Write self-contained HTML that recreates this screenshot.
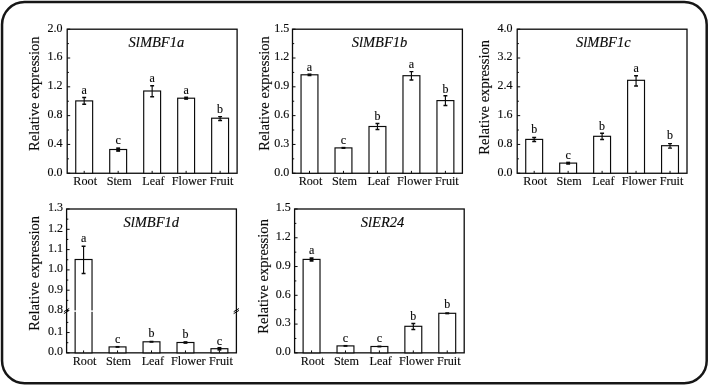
<!DOCTYPE html>
<html><head><meta charset="utf-8"><title>Relative expression</title>
<style>
html,body{margin:0;padding:0;background:#fff;}
body{width:709px;height:386px;overflow:hidden;position:relative;}
svg{position:absolute;left:0;top:0;display:block;}
svg text{font-family:"Liberation Serif", "DejaVu Serif", serif;fill:#0a0a0a;stroke:#0a0a0a;stroke-width:0.14px;}
</style></head><body>
<svg width="709" height="386" viewBox="0 0 709 386">
<rect x="2.05" y="1.95" width="704.65" height="381.35" rx="22.5" ry="22.5" fill="#fff" stroke="#161616" stroke-width="2.5"/>
<g>
<rect x="67.2" y="29.2" width="169.9" height="144.05" fill="#fff" stroke="#0a0a0a" stroke-width="1.3"/>
<line x1="67.2" y1="173.25" x2="70.2" y2="173.25" stroke="#0a0a0a" stroke-width="1"/>
<text x="62.6" y="175.6" font-size="12" text-anchor="end">0.0</text>
<line x1="67.2" y1="158.84" x2="68.9" y2="158.84" stroke="#0a0a0a" stroke-width="1"/>
<line x1="67.2" y1="144.44" x2="70.2" y2="144.44" stroke="#0a0a0a" stroke-width="1"/>
<text x="62.6" y="146.79" font-size="12" text-anchor="end">0.4</text>
<line x1="67.2" y1="130.03" x2="68.9" y2="130.03" stroke="#0a0a0a" stroke-width="1"/>
<line x1="67.2" y1="115.63" x2="70.2" y2="115.63" stroke="#0a0a0a" stroke-width="1"/>
<text x="62.6" y="117.98" font-size="12" text-anchor="end">0.8</text>
<line x1="67.2" y1="101.22" x2="68.9" y2="101.22" stroke="#0a0a0a" stroke-width="1"/>
<line x1="67.2" y1="86.82" x2="70.2" y2="86.82" stroke="#0a0a0a" stroke-width="1"/>
<text x="62.6" y="89.17" font-size="12" text-anchor="end">1.2</text>
<line x1="67.2" y1="72.41" x2="68.9" y2="72.41" stroke="#0a0a0a" stroke-width="1"/>
<line x1="67.2" y1="58.01" x2="70.2" y2="58.01" stroke="#0a0a0a" stroke-width="1"/>
<text x="62.6" y="60.36" font-size="12" text-anchor="end">1.6</text>
<line x1="67.2" y1="43.6" x2="68.9" y2="43.6" stroke="#0a0a0a" stroke-width="1"/>
<line x1="67.2" y1="29.2" x2="70.2" y2="29.2" stroke="#0a0a0a" stroke-width="1"/>
<text x="62.6" y="31.55" font-size="12" text-anchor="end">2.0</text>
<rect x="75.74" y="100.9" width="16.9" height="72.35" fill="#fff" stroke="#0a0a0a" stroke-width="1.15"/>
<line x1="84.19" y1="173.25" x2="84.19" y2="170.85" stroke="#0a0a0a" stroke-width="1"/>
<path d="M84.19 104.3V97.5" stroke="#0a0a0a" stroke-width="1.15" fill="none"/>
<path d="M82.24 104.3h3.9M82.24 97.5h3.9" stroke="#0a0a0a" stroke-width="1.45" fill="none"/>
<text x="84.19" y="93.9" font-size="12" text-anchor="middle">a</text>
<text x="85.19" y="185.1" font-size="12.2" text-anchor="middle">Root</text>
<rect x="109.72" y="149.5" width="16.9" height="23.75" fill="#fff" stroke="#0a0a0a" stroke-width="1.15"/>
<line x1="118.17" y1="173.25" x2="118.17" y2="170.85" stroke="#0a0a0a" stroke-width="1"/>
<rect x="116.22" y="147.35" width="3.9" height="4.5" fill="#0a0a0a"/>
<text x="118.17" y="143.9" font-size="12" text-anchor="middle">c</text>
<text x="119.17" y="185.1" font-size="12.2" text-anchor="middle">Stem</text>
<rect x="143.7" y="91.0" width="16.9" height="82.25" fill="#fff" stroke="#0a0a0a" stroke-width="1.15"/>
<line x1="152.15" y1="173.25" x2="152.15" y2="170.85" stroke="#0a0a0a" stroke-width="1"/>
<path d="M152.15 96.7V85.7" stroke="#0a0a0a" stroke-width="1.15" fill="none"/>
<path d="M150.2 96.7h3.9M150.2 85.7h3.9" stroke="#0a0a0a" stroke-width="1.45" fill="none"/>
<text x="152.15" y="81.7" font-size="12" text-anchor="middle">a</text>
<text x="153.45" y="185.1" font-size="12.2" text-anchor="middle">Leaf</text>
<rect x="177.68" y="98.2" width="16.9" height="75.05" fill="#fff" stroke="#0a0a0a" stroke-width="1.15"/>
<line x1="186.13" y1="173.25" x2="186.13" y2="170.85" stroke="#0a0a0a" stroke-width="1"/>
<rect x="184.18" y="96.55" width="3.9" height="3.3" fill="#0a0a0a"/>
<text x="186.13" y="93.6" font-size="12" text-anchor="middle">a</text>
<text x="189.03" y="185.1" font-size="12.2" text-anchor="middle">Flower</text>
<rect x="211.66" y="118.2" width="16.9" height="55.05" fill="#fff" stroke="#0a0a0a" stroke-width="1.15"/>
<line x1="220.11" y1="173.25" x2="220.11" y2="170.85" stroke="#0a0a0a" stroke-width="1"/>
<path d="M220.11 120.4V116.6" stroke="#0a0a0a" stroke-width="1.15" fill="none"/>
<path d="M218.16 120.4h3.9M218.16 116.6h3.9" stroke="#0a0a0a" stroke-width="1.45" fill="none"/>
<text x="220.11" y="113.3" font-size="12" text-anchor="middle">b</text>
<text x="221.61" y="185.1" font-size="12.2" text-anchor="middle">Fruit</text>
<text x="156.4" y="47.1" font-size="14.5" font-style="italic" text-anchor="middle">SlMBF1a</text>
<text transform="translate(39.0,93.7) rotate(-90)" font-size="14.6" text-anchor="middle">Relative expression</text>
</g>
<g>
<rect x="292.5" y="29.2" width="169.9" height="144.05" fill="#fff" stroke="#0a0a0a" stroke-width="1.3"/>
<line x1="292.5" y1="173.25" x2="295.5" y2="173.25" stroke="#0a0a0a" stroke-width="1"/>
<text x="289.3" y="175.6" font-size="12" text-anchor="end">0.0</text>
<line x1="292.5" y1="158.84" x2="294.2" y2="158.84" stroke="#0a0a0a" stroke-width="1"/>
<line x1="292.5" y1="144.44" x2="295.5" y2="144.44" stroke="#0a0a0a" stroke-width="1"/>
<text x="289.3" y="146.79" font-size="12" text-anchor="end">0.3</text>
<line x1="292.5" y1="130.03" x2="294.2" y2="130.03" stroke="#0a0a0a" stroke-width="1"/>
<line x1="292.5" y1="115.63" x2="295.5" y2="115.63" stroke="#0a0a0a" stroke-width="1"/>
<text x="289.3" y="117.98" font-size="12" text-anchor="end">0.6</text>
<line x1="292.5" y1="101.22" x2="294.2" y2="101.22" stroke="#0a0a0a" stroke-width="1"/>
<line x1="292.5" y1="86.82" x2="295.5" y2="86.82" stroke="#0a0a0a" stroke-width="1"/>
<text x="289.3" y="89.17" font-size="12" text-anchor="end">0.9</text>
<line x1="292.5" y1="72.42" x2="294.2" y2="72.42" stroke="#0a0a0a" stroke-width="1"/>
<line x1="292.5" y1="58.01" x2="295.5" y2="58.01" stroke="#0a0a0a" stroke-width="1"/>
<text x="289.3" y="60.36" font-size="12" text-anchor="end">1.2</text>
<line x1="292.5" y1="43.6" x2="294.2" y2="43.6" stroke="#0a0a0a" stroke-width="1"/>
<line x1="292.5" y1="29.2" x2="295.5" y2="29.2" stroke="#0a0a0a" stroke-width="1"/>
<text x="289.3" y="31.55" font-size="12" text-anchor="end">1.5</text>
<rect x="301.04" y="74.8" width="16.9" height="98.45" fill="#fff" stroke="#0a0a0a" stroke-width="1.15"/>
<line x1="309.49" y1="173.25" x2="309.49" y2="170.85" stroke="#0a0a0a" stroke-width="1"/>
<rect x="307.54" y="73.45" width="3.9" height="2.8" fill="#0a0a0a"/>
<text x="309.49" y="70.5" font-size="12" text-anchor="middle">a</text>
<text x="310.49" y="185.1" font-size="12.2" text-anchor="middle">Root</text>
<rect x="335.02" y="147.9" width="16.9" height="25.35" fill="#fff" stroke="#0a0a0a" stroke-width="1.15"/>
<line x1="343.47" y1="173.25" x2="343.47" y2="170.85" stroke="#0a0a0a" stroke-width="1"/>
<rect x="341.52" y="146.85" width="3.9" height="2.1" fill="#0a0a0a"/>
<text x="343.47" y="144.0" font-size="12" text-anchor="middle">c</text>
<text x="344.47" y="185.1" font-size="12.2" text-anchor="middle">Stem</text>
<rect x="369.0" y="126.5" width="16.9" height="46.75" fill="#fff" stroke="#0a0a0a" stroke-width="1.15"/>
<line x1="377.45" y1="173.25" x2="377.45" y2="170.85" stroke="#0a0a0a" stroke-width="1"/>
<path d="M377.45 129.4V123.4" stroke="#0a0a0a" stroke-width="1.15" fill="none"/>
<path d="M375.5 129.4h3.9M375.5 123.4h3.9" stroke="#0a0a0a" stroke-width="1.45" fill="none"/>
<text x="377.45" y="120.4" font-size="12" text-anchor="middle">b</text>
<text x="378.75" y="185.1" font-size="12.2" text-anchor="middle">Leaf</text>
<rect x="402.98" y="75.7" width="16.9" height="97.55" fill="#fff" stroke="#0a0a0a" stroke-width="1.15"/>
<line x1="411.43" y1="173.25" x2="411.43" y2="170.85" stroke="#0a0a0a" stroke-width="1"/>
<path d="M411.43 80.0V71.6" stroke="#0a0a0a" stroke-width="1.15" fill="none"/>
<path d="M409.48 80.0h3.9M409.48 71.6h3.9" stroke="#0a0a0a" stroke-width="1.45" fill="none"/>
<text x="411.43" y="68.2" font-size="12" text-anchor="middle">a</text>
<text x="414.33" y="185.1" font-size="12.2" text-anchor="middle">Flower</text>
<rect x="436.96" y="100.6" width="16.9" height="72.65" fill="#fff" stroke="#0a0a0a" stroke-width="1.15"/>
<line x1="445.41" y1="173.25" x2="445.41" y2="170.85" stroke="#0a0a0a" stroke-width="1"/>
<path d="M445.41 105.4V95.7" stroke="#0a0a0a" stroke-width="1.15" fill="none"/>
<path d="M443.46 105.4h3.9M443.46 95.7h3.9" stroke="#0a0a0a" stroke-width="1.45" fill="none"/>
<text x="445.41" y="93.2" font-size="12" text-anchor="middle">b</text>
<text x="446.91" y="185.1" font-size="12.2" text-anchor="middle">Fruit</text>
<text x="379.5" y="47.1" font-size="14.5" font-style="italic" text-anchor="middle">SlMBF1b</text>
<text transform="translate(269.4,93.5) rotate(-90)" font-size="14.6" text-anchor="middle">Relative expression</text>
</g>
<g>
<rect x="517.2" y="29.2" width="169.8" height="144.05" fill="#fff" stroke="#0a0a0a" stroke-width="1.3"/>
<line x1="517.2" y1="173.25" x2="520.2" y2="173.25" stroke="#0a0a0a" stroke-width="1"/>
<text x="512.5" y="175.6" font-size="12" text-anchor="end">0.0</text>
<line x1="517.2" y1="158.84" x2="518.9" y2="158.84" stroke="#0a0a0a" stroke-width="1"/>
<line x1="517.2" y1="144.44" x2="520.2" y2="144.44" stroke="#0a0a0a" stroke-width="1"/>
<text x="512.5" y="146.79" font-size="12" text-anchor="end">0.8</text>
<line x1="517.2" y1="130.03" x2="518.9" y2="130.03" stroke="#0a0a0a" stroke-width="1"/>
<line x1="517.2" y1="115.63" x2="520.2" y2="115.63" stroke="#0a0a0a" stroke-width="1"/>
<text x="512.5" y="117.98" font-size="12" text-anchor="end">1.6</text>
<line x1="517.2" y1="101.22" x2="518.9" y2="101.22" stroke="#0a0a0a" stroke-width="1"/>
<line x1="517.2" y1="86.82" x2="520.2" y2="86.82" stroke="#0a0a0a" stroke-width="1"/>
<text x="512.5" y="89.17" font-size="12" text-anchor="end">2.4</text>
<line x1="517.2" y1="72.41" x2="518.9" y2="72.41" stroke="#0a0a0a" stroke-width="1"/>
<line x1="517.2" y1="58.01" x2="520.2" y2="58.01" stroke="#0a0a0a" stroke-width="1"/>
<text x="512.5" y="60.36" font-size="12" text-anchor="end">3.2</text>
<line x1="517.2" y1="43.6" x2="518.9" y2="43.6" stroke="#0a0a0a" stroke-width="1"/>
<line x1="517.2" y1="29.2" x2="520.2" y2="29.2" stroke="#0a0a0a" stroke-width="1"/>
<text x="512.5" y="31.55" font-size="12" text-anchor="end">4.0</text>
<rect x="525.73" y="139.4" width="16.9" height="33.85" fill="#fff" stroke="#0a0a0a" stroke-width="1.15"/>
<line x1="534.18" y1="173.25" x2="534.18" y2="170.85" stroke="#0a0a0a" stroke-width="1"/>
<path d="M534.18 141.4V137.5" stroke="#0a0a0a" stroke-width="1.15" fill="none"/>
<path d="M532.23 141.4h3.9M532.23 137.5h3.9" stroke="#0a0a0a" stroke-width="1.45" fill="none"/>
<text x="534.18" y="133.3" font-size="12" text-anchor="middle">b</text>
<text x="535.18" y="185.1" font-size="12.2" text-anchor="middle">Root</text>
<rect x="559.69" y="163.1" width="16.9" height="10.15" fill="#fff" stroke="#0a0a0a" stroke-width="1.15"/>
<line x1="568.14" y1="173.25" x2="568.14" y2="170.85" stroke="#0a0a0a" stroke-width="1"/>
<rect x="566.19" y="161.65" width="3.9" height="3.1" fill="#0a0a0a"/>
<text x="568.14" y="158.6" font-size="12" text-anchor="middle">c</text>
<text x="569.14" y="185.1" font-size="12.2" text-anchor="middle">Stem</text>
<rect x="593.65" y="136.3" width="16.9" height="36.95" fill="#fff" stroke="#0a0a0a" stroke-width="1.15"/>
<line x1="602.1" y1="173.25" x2="602.1" y2="170.85" stroke="#0a0a0a" stroke-width="1"/>
<path d="M602.1 139.5V133.2" stroke="#0a0a0a" stroke-width="1.15" fill="none"/>
<path d="M600.15 139.5h3.9M600.15 133.2h3.9" stroke="#0a0a0a" stroke-width="1.45" fill="none"/>
<text x="602.1" y="129.9" font-size="12" text-anchor="middle">b</text>
<text x="603.4" y="185.1" font-size="12.2" text-anchor="middle">Leaf</text>
<rect x="627.61" y="80.3" width="16.9" height="92.95" fill="#fff" stroke="#0a0a0a" stroke-width="1.15"/>
<line x1="636.06" y1="173.25" x2="636.06" y2="170.85" stroke="#0a0a0a" stroke-width="1"/>
<path d="M636.06 85.9V75.7" stroke="#0a0a0a" stroke-width="1.15" fill="none"/>
<path d="M634.11 85.9h3.9M634.11 75.7h3.9" stroke="#0a0a0a" stroke-width="1.45" fill="none"/>
<text x="636.06" y="71.6" font-size="12" text-anchor="middle">a</text>
<text x="638.96" y="185.1" font-size="12.2" text-anchor="middle">Flower</text>
<rect x="661.57" y="145.7" width="16.9" height="27.55" fill="#fff" stroke="#0a0a0a" stroke-width="1.15"/>
<line x1="670.02" y1="173.25" x2="670.02" y2="170.85" stroke="#0a0a0a" stroke-width="1"/>
<path d="M670.02 148.1V143.6" stroke="#0a0a0a" stroke-width="1.15" fill="none"/>
<path d="M668.07 148.1h3.9M668.07 143.6h3.9" stroke="#0a0a0a" stroke-width="1.45" fill="none"/>
<text x="670.02" y="139.3" font-size="12" text-anchor="middle">b</text>
<text x="671.52" y="185.1" font-size="12.2" text-anchor="middle">Fruit</text>
<text x="603.3" y="47.1" font-size="14.5" font-style="italic" text-anchor="middle">SlMBF1c</text>
<text transform="translate(489.0,97.3) rotate(-90)" font-size="14.6" text-anchor="middle">Relative expression</text>
</g>
<g>
<rect x="294.6" y="209.0" width="169.6" height="143.85" fill="#fff" stroke="#0a0a0a" stroke-width="1.3"/>
<line x1="294.6" y1="352.85" x2="297.6" y2="352.85" stroke="#0a0a0a" stroke-width="1"/>
<text x="290.8" y="355.2" font-size="12" text-anchor="end">0.0</text>
<line x1="294.6" y1="338.47" x2="296.3" y2="338.47" stroke="#0a0a0a" stroke-width="1"/>
<line x1="294.6" y1="324.08" x2="297.6" y2="324.08" stroke="#0a0a0a" stroke-width="1"/>
<text x="290.8" y="326.43" font-size="12" text-anchor="end">0.3</text>
<line x1="294.6" y1="309.7" x2="296.3" y2="309.7" stroke="#0a0a0a" stroke-width="1"/>
<line x1="294.6" y1="295.31" x2="297.6" y2="295.31" stroke="#0a0a0a" stroke-width="1"/>
<text x="290.8" y="297.66" font-size="12" text-anchor="end">0.6</text>
<line x1="294.6" y1="280.93" x2="296.3" y2="280.93" stroke="#0a0a0a" stroke-width="1"/>
<line x1="294.6" y1="266.54" x2="297.6" y2="266.54" stroke="#0a0a0a" stroke-width="1"/>
<text x="290.8" y="268.89" font-size="12" text-anchor="end">0.9</text>
<line x1="294.6" y1="252.16" x2="296.3" y2="252.16" stroke="#0a0a0a" stroke-width="1"/>
<line x1="294.6" y1="237.77" x2="297.6" y2="237.77" stroke="#0a0a0a" stroke-width="1"/>
<text x="290.8" y="240.12" font-size="12" text-anchor="end">1.2</text>
<line x1="294.6" y1="223.39" x2="296.3" y2="223.39" stroke="#0a0a0a" stroke-width="1"/>
<line x1="294.6" y1="209.0" x2="297.6" y2="209.0" stroke="#0a0a0a" stroke-width="1"/>
<text x="290.8" y="211.35" font-size="12" text-anchor="end">1.5</text>
<rect x="303.11" y="259.4" width="16.9" height="93.45" fill="#fff" stroke="#0a0a0a" stroke-width="1.15"/>
<line x1="311.56" y1="352.85" x2="311.56" y2="350.45" stroke="#0a0a0a" stroke-width="1"/>
<rect x="309.61" y="257.25" width="3.9" height="4.5" fill="#0a0a0a"/>
<text x="311.56" y="254.4" font-size="12" text-anchor="middle">a</text>
<text x="312.56" y="365.0" font-size="12.2" text-anchor="middle">Root</text>
<rect x="337.03" y="345.9" width="16.9" height="6.95" fill="#fff" stroke="#0a0a0a" stroke-width="1.15"/>
<line x1="345.48" y1="352.85" x2="345.48" y2="350.45" stroke="#0a0a0a" stroke-width="1"/>
<rect x="343.53" y="344.95" width="3.9" height="1.9" fill="#0a0a0a"/>
<text x="345.48" y="341.8" font-size="12" text-anchor="middle">c</text>
<text x="346.48" y="365.0" font-size="12.2" text-anchor="middle">Stem</text>
<rect x="370.95" y="346.5" width="16.9" height="6.35" fill="#fff" stroke="#0a0a0a" stroke-width="1.15"/>
<line x1="379.4" y1="352.85" x2="379.4" y2="350.45" stroke="#0a0a0a" stroke-width="1"/>
<rect x="377.45" y="345.55" width="3.9" height="1.9" fill="#0a0a0a"/>
<text x="379.4" y="341.8" font-size="12" text-anchor="middle">c</text>
<text x="380.7" y="365.0" font-size="12.2" text-anchor="middle">Leaf</text>
<rect x="404.87" y="326.3" width="16.9" height="26.55" fill="#fff" stroke="#0a0a0a" stroke-width="1.15"/>
<line x1="413.32" y1="352.85" x2="413.32" y2="350.45" stroke="#0a0a0a" stroke-width="1"/>
<path d="M413.32 329.4V323.4" stroke="#0a0a0a" stroke-width="1.15" fill="none"/>
<path d="M411.37 329.4h3.9M411.37 323.4h3.9" stroke="#0a0a0a" stroke-width="1.45" fill="none"/>
<text x="413.32" y="319.7" font-size="12" text-anchor="middle">b</text>
<text x="416.22" y="365.0" font-size="12.2" text-anchor="middle">Flower</text>
<rect x="438.79" y="313.3" width="16.9" height="39.55" fill="#fff" stroke="#0a0a0a" stroke-width="1.15"/>
<line x1="447.24" y1="352.85" x2="447.24" y2="350.45" stroke="#0a0a0a" stroke-width="1"/>
<rect x="445.29" y="312.25" width="3.9" height="2.1" fill="#0a0a0a"/>
<text x="447.24" y="307.8" font-size="12" text-anchor="middle">b</text>
<text x="448.74" y="365.0" font-size="12.2" text-anchor="middle">Fruit</text>
<text x="382.5" y="226.5" font-size="14.5" font-style="italic" text-anchor="middle">SlER24</text>
<text transform="translate(267.6,276.4) rotate(-90)" font-size="14.6" text-anchor="middle">Relative expression</text>
</g>
<g>
<rect x="66.6" y="209.0" width="169.8" height="143.85" fill="#fff" stroke="#0a0a0a" stroke-width="1.3"/>
<line x1="66.6" y1="209.0" x2="69.6" y2="209.0" stroke="#0a0a0a" stroke-width="1"/>
<text x="63.1" y="211.35" font-size="12" text-anchor="end">1.3</text>
<line x1="66.6" y1="219.15" x2="68.3" y2="219.15" stroke="#0a0a0a" stroke-width="1"/>
<line x1="66.6" y1="229.3" x2="69.6" y2="229.3" stroke="#0a0a0a" stroke-width="1"/>
<text x="63.1" y="231.65" font-size="12" text-anchor="end">1.2</text>
<line x1="66.6" y1="239.45" x2="68.3" y2="239.45" stroke="#0a0a0a" stroke-width="1"/>
<line x1="66.6" y1="249.6" x2="69.6" y2="249.6" stroke="#0a0a0a" stroke-width="1"/>
<text x="63.1" y="251.95" font-size="12" text-anchor="end">1.1</text>
<line x1="66.6" y1="259.75" x2="68.3" y2="259.75" stroke="#0a0a0a" stroke-width="1"/>
<line x1="66.6" y1="269.9" x2="69.6" y2="269.9" stroke="#0a0a0a" stroke-width="1"/>
<text x="63.1" y="272.25" font-size="12" text-anchor="end">1.0</text>
<line x1="66.6" y1="280.05" x2="68.3" y2="280.05" stroke="#0a0a0a" stroke-width="1"/>
<line x1="66.6" y1="290.2" x2="69.6" y2="290.2" stroke="#0a0a0a" stroke-width="1"/>
<text x="63.1" y="292.55" font-size="12" text-anchor="end">0.9</text>
<line x1="66.6" y1="300.35" x2="68.3" y2="300.35" stroke="#0a0a0a" stroke-width="1"/>
<line x1="66.6" y1="310.5" x2="69.6" y2="310.5" stroke="#0a0a0a" stroke-width="1"/>
<text x="63.1" y="312.85" font-size="12" text-anchor="end">0.8</text>
<line x1="66.6" y1="352.85" x2="69.6" y2="352.85" stroke="#0a0a0a" stroke-width="1"/>
<text x="63.1" y="355.2" font-size="12" text-anchor="end">0.0</text>
<line x1="66.6" y1="342.7" x2="68.3" y2="342.7" stroke="#0a0a0a" stroke-width="1"/>
<line x1="66.6" y1="332.55" x2="69.6" y2="332.55" stroke="#0a0a0a" stroke-width="1"/>
<text x="63.1" y="334.9" font-size="12" text-anchor="end">0.1</text>
<line x1="66.6" y1="322.4" x2="68.3" y2="322.4" stroke="#0a0a0a" stroke-width="1"/>
<rect x="75.13" y="259.5" width="16.9" height="93.35" fill="#fff" stroke="#0a0a0a" stroke-width="1.15"/>
<line x1="83.58" y1="352.85" x2="83.58" y2="350.45" stroke="#0a0a0a" stroke-width="1"/>
<path d="M83.58 273.5V246.3" stroke="#0a0a0a" stroke-width="1.15" fill="none"/>
<path d="M81.63 273.5h3.9M81.63 246.3h3.9" stroke="#0a0a0a" stroke-width="1.45" fill="none"/>
<text x="83.58" y="242.4" font-size="12" text-anchor="middle">a</text>
<text x="84.58" y="365.0" font-size="12.2" text-anchor="middle">Root</text>
<rect x="109.09" y="346.9" width="16.9" height="5.95" fill="#fff" stroke="#0a0a0a" stroke-width="1.15"/>
<line x1="117.54" y1="352.85" x2="117.54" y2="350.45" stroke="#0a0a0a" stroke-width="1"/>
<rect x="115.59" y="345.95" width="3.9" height="1.9" fill="#0a0a0a"/>
<text x="117.54" y="342.8" font-size="12" text-anchor="middle">c</text>
<text x="118.54" y="365.0" font-size="12.2" text-anchor="middle">Stem</text>
<rect x="143.05" y="341.8" width="16.9" height="11.05" fill="#fff" stroke="#0a0a0a" stroke-width="1.15"/>
<line x1="151.5" y1="352.85" x2="151.5" y2="350.45" stroke="#0a0a0a" stroke-width="1"/>
<rect x="149.55" y="340.75" width="3.9" height="2.0" fill="#0a0a0a"/>
<text x="151.5" y="337.1" font-size="12" text-anchor="middle">b</text>
<text x="152.8" y="365.0" font-size="12.2" text-anchor="middle">Leaf</text>
<rect x="177.01" y="342.5" width="16.9" height="10.35" fill="#fff" stroke="#0a0a0a" stroke-width="1.15"/>
<line x1="185.46" y1="352.85" x2="185.46" y2="350.45" stroke="#0a0a0a" stroke-width="1"/>
<rect x="183.51" y="341.15" width="3.9" height="2.7" fill="#0a0a0a"/>
<text x="185.46" y="337.6" font-size="12" text-anchor="middle">b</text>
<text x="188.36" y="365.0" font-size="12.2" text-anchor="middle">Flower</text>
<rect x="210.97" y="348.7" width="16.9" height="4.15" fill="#fff" stroke="#0a0a0a" stroke-width="1.15"/>
<line x1="219.42" y1="352.85" x2="219.42" y2="350.45" stroke="#0a0a0a" stroke-width="1"/>
<rect x="217.47" y="346.95" width="3.9" height="3.7" fill="#0a0a0a"/>
<text x="219.42" y="344.9" font-size="12" text-anchor="middle">c</text>
<text x="220.92" y="365.0" font-size="12.2" text-anchor="middle">Fruit</text>
<text x="151.3" y="226.5" font-size="14.5" font-style="italic" text-anchor="middle">SlMBF1d</text>
<text transform="translate(39.0,273.3) rotate(-90)" font-size="14.6" text-anchor="middle">Relative expression</text>
<rect x="68.6" y="310.4" width="165.8" height="1.4" fill="#fff"/>
<path d="M63.9 311.7l5.3 -3.2M63.9 313.6l5.3 -3.2" stroke="#0a0a0a" stroke-width="1.0" fill="none"/>
<path d="M233.7 311.7l5.3 -3.2M233.7 313.6l5.3 -3.2" stroke="#0a0a0a" stroke-width="1.0" fill="none"/>
</g>
</svg>
</body></html>
